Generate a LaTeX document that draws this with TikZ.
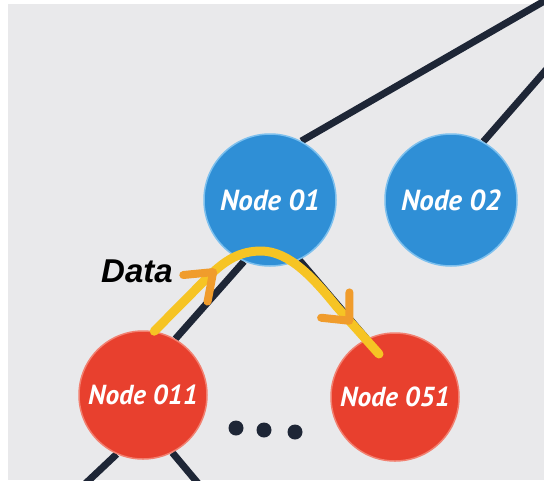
\documentclass[tikz,border=0pt]{standalone}
\usepackage{fontspec}
\usepackage{tikz}
\usetikzlibrary{positioning,arrows.meta,backgrounds,decorations.markings}
\usepackage{xcolor}
\newfontfamily\labelfont{PT Sans}
\newfontfamily\datafont{Liberation Sans}
\definecolor{bgcolor}{RGB}{233, 233, 235}
\definecolor{nodeblue}{RGB}{47, 143, 214}
\definecolor{glowblue}{RGB}{125, 192, 238}
\definecolor{nodered}{RGB}{232, 64, 46}
\definecolor{glowred}{RGB}{242, 128, 112}
\definecolor{linkcolor}{RGB}{30, 38, 54}
\definecolor{flowyellow}{RGB}{246, 196, 36}
\definecolor{floworange}{RGB}{240, 156, 44}

\begin{document}
\begin{tikzpicture}[
    x=1pt, y=-1pt,
    bluenode/.style={circle, fill=nodeblue, draw=glowblue, line width=1.5pt,
        minimum size=132pt, inner sep=0pt, text=white,
        font=\labelfont\bfseries\itshape\fontsize{29}{32}\selectfont},
    rednode/.style={circle, fill=nodered, draw=glowred, line width=1.5pt,
        minimum size=128pt, inner sep=0pt, text=white,
        font=\labelfont\bfseries\itshape\fontsize{27.5}{30}\selectfont},
    link/.style={draw=linkcolor, line width=7pt},
    dot/.style={circle, fill=linkcolor, minimum size=15pt, inner sep=0pt},
    chevron/.style={draw=floworange, line width=8pt, line cap=round, line join=round},
    dataflow/.style={draw=flowyellow, line width=9pt, line cap=round,
        postaction={decorate}, decoration={markings,
            mark=at position 0.28 with {\draw[chevron] (-24pt,18pt) -- (0pt,0pt) -- (-24pt,-18pt);},
            mark=at position 0.85 with {\draw[chevron] (-21pt,19pt) -- (0pt,0pt) -- (-21pt,-19pt);}}}
]
    \useasboundingbox (0,0) rectangle (544,480);
    \clip (0,0) rectangle (544,480);

    % Nodes
    \node[bluenode] (n01) at (270,200) {Node 01};
    \node[bluenode] (n02) at (451,200) {Node 02};
    \node[rednode] (n011) at (143,395) {Node 011};
    \node[rednode] (n051) at (395,397) {Node 051};

    % Dots between the children
    \foreach \i/\x/\y in {1/236/428, 2/264/430, 3/295/432} {
        \node[dot] (dot\i) at (\x,\y) {};
    }

    % Free ends of the links
    \coordinate (up1) at (560,-8);
    \coordinate (up2) at (560,54);
    \coordinate (down1) at (68,500);
    \coordinate (down2) at (212,500);
    \coordinate (dataend) at (379,354);

    % Links
    \begin{scope}[on background layer]
        \fill[white] (0,0) rectangle (544,480);
        \fill[bgcolor] (8,4) rectangle (544,480);
        \draw[link] (n01.62) -- (up1);
        \draw[link] (n02.61) -- (up2);
        \draw[link] (n01.-113) -- (n011.60);
        \draw[link] (n01.-64) -- (n051.116);
        \draw[link] (n011.-114) -- (down1);
        \draw[link] (n011.-63) -- (down2);
    \end{scope}

    % Data flow
    \draw[dataflow] (n011.80) -- (207,278)
        .. controls (225,260) and (240,251) .. (261,251)
        .. controls (290,251) and (315,280) .. (337,307) -- (dataend);
    \node[font=\datafont\bfseries\itshape\fontsize{33}{35}\selectfont]
        (data) at (137,271) {Data};
\end{tikzpicture}
\end{document}
